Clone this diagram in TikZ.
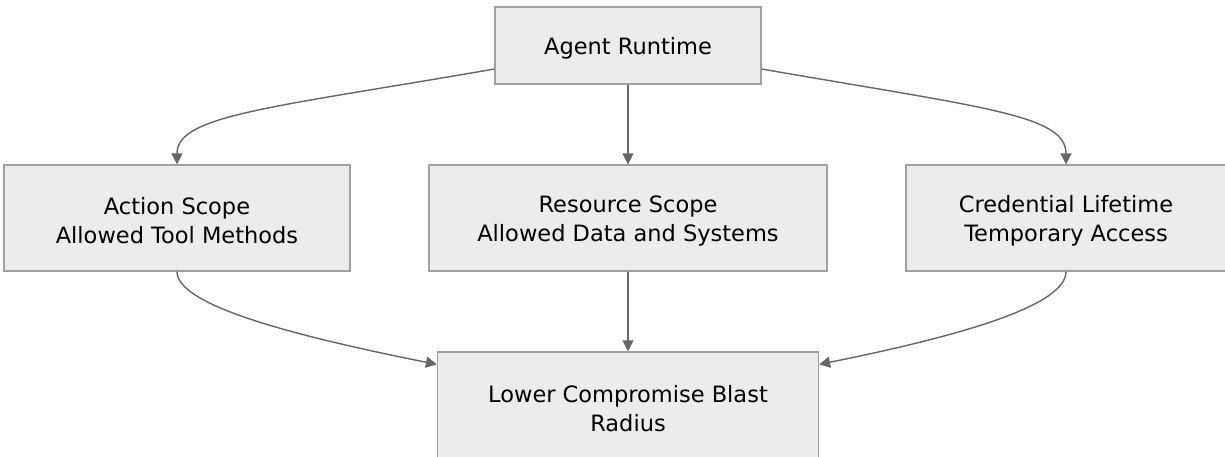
\documentclass[tikz,border=0pt]{standalone}
\usepackage{fontspec}
\setmainfont{DejaVu Sans}
\usetikzlibrary{arrows.meta}
\definecolor{boxfill}{HTML}{ECECEC}
\definecolor{boxline}{HTML}{A0A0A0}
\definecolor{edgecol}{HTML}{666666}
\begin{document}
\begin{tikzpicture}[x=1pt,y=-1pt,
  box/.style={draw=boxline,fill=boxfill,line width=1.2pt,inner sep=0pt,align=center,
    font=\fontsize{22.5}{29}\selectfont,text=black},
  txt/.style={yshift=-2.5pt,inner sep=0pt,align=center,font=\fontsize{22.5}{29}\selectfont,text=black},
  edge/.style={draw=edgecol,line width=1.4pt,-{Triangle[length=11pt,width=11pt]}}]
\useasboundingbox (0,0) rectangle (1225,457);
\node[box,minimum width=266pt,minimum height=77pt,label={[txt]center:Agent Runtime}] (top) at (628,45.5) {};
\node[box,minimum width=346pt,minimum height=106pt,label={[txt]center:Action Scope\\Allowed Tool Methods}] (act) at (177,218) {};
\node[box,minimum width=398pt,minimum height=106pt,label={[txt]center:Resource Scope\\Allowed Data and Systems}] (res) at (628,218) {};
\node[box,minimum width=320pt,minimum height=106pt,label={[txt]center:Credential Lifetime\\Temporary Access}] (cred) at (1066,218) {};
\node[box,minimum width=381pt,minimum height=108pt,label={[txt]center:Lower Compromise Blast\\Radius}] (low) at (628,406) {};
\draw[edge] ([yshift=-23.5pt]top.west) .. controls (270,108) and (177,115) .. (act.north);
\draw[edge] (top.south) -- (res.north);
\draw[edge] ([yshift=-23.5pt]top.east) .. controls (986,108) and (1066,115) .. (cred.north);
\draw[edge] (act.south) .. controls (177,305) and (290,335) .. ([yshift=-13pt]low.north west);
\draw[edge] (res.south) -- (low.north);
\draw[edge] (cred.south) .. controls (1066,305) and (965,335) .. ([yshift=-13pt]low.north east);
\end{tikzpicture}
\end{document}
